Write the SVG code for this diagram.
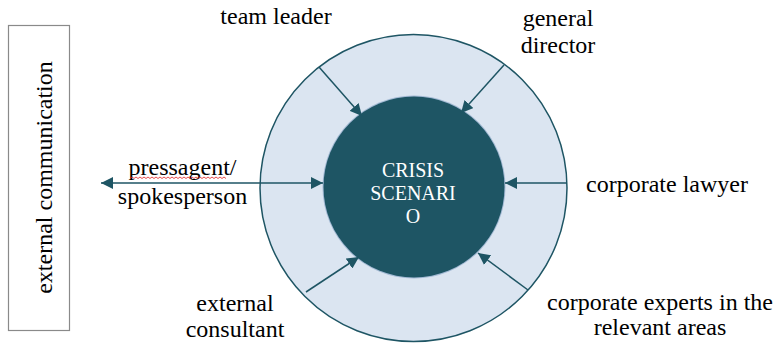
<svg xmlns="http://www.w3.org/2000/svg" width="777" height="343" viewBox="0 0 777 343">
<style>
text{font-family:'Liberation Serif','DejaVu Serif',serif}
.lbl{font-size:24px;fill:#000;text-anchor:middle}
.core{font-size:20px;fill:#fff;text-anchor:middle}
.conn{stroke:#1e5564;stroke-width:1.5;fill:none}
</style>
<defs>
<marker id="ah" viewBox="0 0 12 12" refX="12" refY="6" markerWidth="12" markerHeight="12" markerUnits="userSpaceOnUse" orient="auto-start-reverse">
<path d="M0,0 L12,6 L0,12 Z" fill="#1e5564"/>
</marker>
</defs>
<rect width="777" height="343" fill="#fff"/>
<g id="external-communication">
<rect x="8.5" y="25.5" width="61" height="305" fill="#fff" stroke="#8a8a8a" stroke-width="1.2"/>
<text class="lbl" font-family="Liberation Serif, serif" transform="translate(52,177.5) rotate(-90)">external communication</text>
</g>
<g id="outer-ring">
<circle cx="413.5" cy="188" r="153.5" fill="#dbe5f1" stroke="#1e5564" stroke-width="1.5"/>
</g>
<g id="crisis-scenario">
<circle cx="414" cy="187" r="91.5" fill="#8aa6c8" opacity="0.7"/>
<circle cx="414" cy="187" r="90.5" fill="#1e5564"/>
<text class="core" font-family="Liberation Serif, serif" x="413" y="177">CRISIS</text>
<text class="core" font-family="Liberation Serif, serif" x="413" y="200">SCENARI</text>
<text class="core" font-family="Liberation Serif, serif" x="413" y="223">O</text>
</g>
<g id="connectors">
<line class="conn" x1="319" y1="67" x2="362" y2="116" marker-end="url(#ah)"/>
<line class="conn" x1="504" y1="65" x2="461" y2="113" marker-end="url(#ah)"/>
<line class="conn" x1="567" y1="183" x2="505" y2="183" marker-end="url(#ah)"/>
<line class="conn" x1="101" y1="183" x2="323" y2="183" marker-start="url(#ah)" marker-end="url(#ah)"/>
<line class="conn" x1="306" y1="292" x2="359" y2="257" marker-end="url(#ah)"/>
<line class="conn" x1="528" y1="290" x2="478" y2="253" marker-end="url(#ah)"/>
</g>
<g id="team-leader">
<text class="lbl" font-family="Liberation Serif, serif" x="276" y="24">team leader</text>
</g>
<g id="general-director">
<text class="lbl" font-family="Liberation Serif, serif" x="558" y="26">general</text>
<text class="lbl" font-family="Liberation Serif, serif" x="558" y="53">director</text>
</g>
<g id="corporate-lawyer">
<text class="lbl" font-family="Liberation Serif, serif" x="667" y="191.5">corporate lawyer</text>
</g>
<g id="corporate-experts">
<text class="lbl" font-family="Liberation Serif, serif" x="660" y="310">corporate experts in the</text>
<text class="lbl" font-family="Liberation Serif, serif" x="660" y="335">relevant areas</text>
</g>
<g id="external-consultant">
<text class="lbl" font-family="Liberation Serif, serif" x="235" y="311">external</text>
<text class="lbl" font-family="Liberation Serif, serif" x="235" y="336.5">consultant</text>
</g>
<g id="pressagent">
<text class="lbl" font-family="Liberation Serif, serif" x="182.5" y="175">pressagent/</text>
<path d="M130,178.5 l2,-1.5 l2,1.5 l2,-1.5 l2,1.5 l2,-1.5 l2,1.5 l2,-1.5 l2,1.5 l2,-1.5 l2,1.5 l2,-1.5 l2,1.5 l2,-1.5 l2,1.5 l2,-1.5 l2,1.5 l2,-1.5 l2,1.5 l2,-1.5 l2,1.5 l2,-1.5 l2,1.5 l2,-1.5 l2,1.5 l2,-1.5 l2,1.5 l2,-1.5 l2,1.5 l2,-1.5 l2,1.5 l2,-1.5 l2,1.5 l2,-1.5 l2,1.5 l2,-1.5 l2,1.5 l2,-1.5 l2,1.5 l2,-1.5 l2,1.5 l2,-1.5 l2,1.5 l2,-1.5 l2,1.5 l2,-1.5 l2,1.5 l2,-1.5 l2,1.5" fill="none" stroke="#e02020" stroke-width="0.8"/>
<text class="lbl" font-family="Liberation Serif, serif" x="182.5" y="203.5">spokesperson</text>
</g>
</svg>
